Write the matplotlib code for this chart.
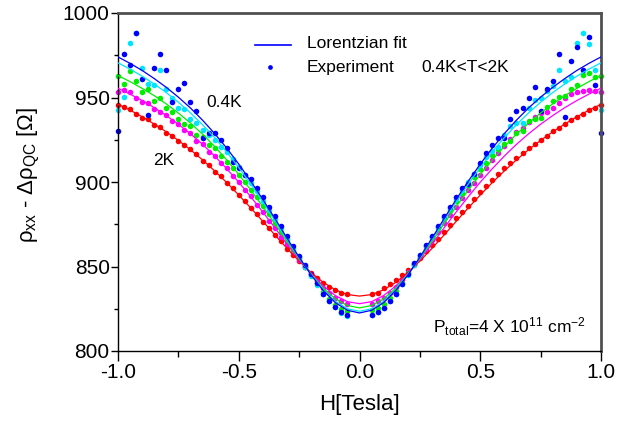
import matplotlib
matplotlib.use('Agg')
import matplotlib.pyplot as plt
from matplotlib.ticker import MultipleLocator

plt.rcParams['font.family'] = ['Liberation Sans', 'DejaVu Sans']
plt.rcParams['mathtext.fontset'] = 'custom'
plt.rcParams['mathtext.rm'] = 'Liberation Sans'
plt.rcParams['mathtext.it'] = 'Liberation Sans:italic'
plt.rcParams['mathtext.default'] = 'regular'

# ---------------- data ----------------
H_left = [-1.0, -0.975, -0.95, -0.925, -0.9, -0.875, -0.85, -0.825, -0.8, -0.775,
          -0.75, -0.725, -0.7, -0.675, -0.65, -0.625, -0.6, -0.575, -0.55, -0.525,
          -0.5, -0.475, -0.45, -0.425, -0.4, -0.375, -0.35, -0.325, -0.3, -0.275,
          -0.25, -0.225, -0.2, -0.175, -0.15, -0.125, -0.1, -0.075, -0.05]
H_right = [0.05, 0.075, 0.1, 0.125, 0.15, 0.175, 0.2, 0.225, 0.25, 0.275,
           0.3, 0.325, 0.35, 0.375, 0.4, 0.425, 0.45, 0.475, 0.5, 0.525,
           0.55, 0.575, 0.6, 0.625, 0.65, 0.675, 0.7, 0.725, 0.75, 0.775,
           0.8, 0.825, 0.85, 0.875, 0.9, 0.925, 0.95, 0.975, 1.0]

blue_left = [930, 976, 969, 988, 961, 939.5, 967.5, 976, 966.5, 947.5, 955, 958.5, 947.5,
             942, 926, 929, 929, 925, 920, 912, 908, 904, 901.5, 896.5, 891, 885, 880,
             874, 868, 862, 856.5, 851, 845.5, 840, 834, 829.5, 826, 823, 821.5]
blue_right = [821.5, 823, 825.5, 829.5, 834, 839.5, 845.5, 852, 857, 862.5, 868, 874, 880,
              885, 891, 896.5, 899, 905, 911, 917, 922, 926, 926, 937.5, 942, 944, 950,
              956, 942, 955, 960, 975.5, 938.5, 971.5, 980, 966, 986, 957.5, 929]

cyan_left = [942.5, 950.5, 982, 988, 967.5, 958, 957.5, 966, 955, 950, 944, 943, 937, 935,
             931, 928, 925, 921, 917.5, 913.5, 909, 904, 899.5, 894.5, 889, 883.5, 878,
             872.5, 866.5, 861, 855.5, 850, 844.5, 839, 834, 829.5, 826, 822.5, 821]
cyan_right = [821.3, 823, 825.5, 829.5, 834, 839.5, 845, 851, 856.5, 862, 867.5, 873.5, 879,
              884.5, 890, 895, 900, 905, 910, 914.5, 918.5, 921, 928, 933, 935, 935, 943.5,
              948.5, 950, 954, 957, 966, 960, 962, 982, 988, 981.5, 966, 942.5]

green_left = [962.5, 958, 965.5, 959.5, 953.5, 955, 948, 949.5, 944, 941.5, 937, 934.5, 933,
              928, 926.5, 922, 920, 915.5, 912, 908, 904, 900, 895.5, 891, 886, 881, 876,
              870.5, 865.5, 860, 855, 850, 845, 840.5, 835, 831, 827.5, 825, 823.5]
green_right = [824, 825.5, 828, 831.5, 835.5, 840.5, 846, 851.5, 857, 862, 867.5, 873, 878.5,
               883.5, 888.5, 893.5, 898, 903, 907.5, 911.5, 916, 919.5, 922.5, 924, 929, 930,
               936, 937, 938, 944.5, 948, 950.5, 951, 955, 957.5, 963.5, 964.5, 962, 963]

magenta_left = [953.5, 954.5, 953, 950, 947.5, 946.5, 943, 941.5, 939.5, 936, 934.5, 930.5,
                929, 924.5, 922.5, 918, 915.5, 911, 908, 903.5, 900, 895, 891.5, 886.5,
                882.5, 877, 873, 867.5, 863.5, 858.5, 854, 850, 845.5, 841.5, 837.5, 834.5,
                831.5, 829.5, 828]
magenta_right = [828, 829.5, 831.5, 834.5, 838, 842, 846.5, 851, 855.5, 860.5, 865.5, 870.5,
                 875.5, 880.5, 885.5, 890.5, 895, 899.5, 904, 908.5, 913, 917, 921.5, 925.5,
                 929.5, 932, 935.5, 938.5, 941, 941.5, 944, 946.5, 949.5, 952, 953.5, 954,
                 954.5, 954, 953.5]

red_left = [945.5, 944.5, 943, 940, 938, 937, 934, 932.5, 929, 927.5, 924, 922, 919.5, 916.5,
            912.5, 910, 906, 903.5, 899.5, 896.5, 892.5, 889, 884.5, 881, 876.5, 873, 868.5,
            865, 860.5, 857, 853, 849.5, 846, 843, 840.5, 838, 836, 834.5, 833.5]
red_right = [833.5, 834.5, 837, 839.5, 842, 845, 848, 851.5, 855, 859, 862.5, 866.5, 870.5,
             874.5, 878.5, 882.5, 886, 890, 894, 897.5, 901, 904.5, 908, 911, 914, 917, 920,
             922.5, 925, 927, 930, 932, 934.5, 936.5, 938.5, 940.5, 942.5, 944, 945.5]

# Lorentzian fit curves read at |H| = 0, 0.05, ..., 1.0 (symmetric in H)
fit_H = [0.0, 0.05, 0.1, 0.15, 0.2, 0.25, 0.3, 0.35, 0.4, 0.45, 0.5,
         0.55, 0.6, 0.65, 0.7, 0.75, 0.8, 0.85, 0.9, 0.95, 1.0]
blue_fit = [822.5, 824.1, 828.6, 835.8, 844.9, 855.5, 866.7, 878.3, 889.6, 900.4, 910.6,
            920.1, 928.7, 936.6, 943.8, 950.2, 956.0, 961.2, 966.0, 970.2, 974.0]
cyan_fit = [823.5, 825.0, 829.4, 836.3, 845.1, 855.2, 866.1, 877.2, 888.2, 898.7, 908.6,
            917.8, 926.3, 933.9, 940.9, 947.2, 952.9, 958.0, 962.6, 966.8, 970.5]
green_fit = [825.5, 826.9, 830.9, 837.2, 845.4, 854.7, 864.8, 875.2, 885.4, 895.2, 904.5,
             913.1, 921.1, 928.3, 934.9, 940.8, 946.2, 951.1, 955.4, 959.4, 963.0]
magenta_fit = [828.0, 829.2, 832.8, 838.4, 845.7, 854.2, 863.3, 872.8, 882.2, 891.2, 899.9,
               907.9, 915.4, 922.3, 928.5, 934.2, 939.3, 944.0, 948.2, 952.0, 955.5]
red_fit = [832.5, 833.4, 836.2, 840.6, 846.4, 853.2, 860.7, 868.6, 876.7, 884.6, 892.3,
           899.7, 906.6, 913.1, 919.1, 924.6, 929.7, 934.3, 938.6, 942.5, 946.0]

x_ticks = [-1.0, -0.5, 0.0, 0.5, 1.0]
y_ticks = [800, 850, 900, 950, 1000]

# ---------------- figure ----------------
fig = plt.figure(figsize=(6.44, 4.30), dpi=100)
ax = fig.add_axes([118 / 644, 1 - 351 / 430, 483 / 644, 338 / 430])

H_all = H_left + H_right
series = [
    ('#ff0000', red_left + red_right, red_fit),
    ('#ff00ff', magenta_left + magenta_right, magenta_fit),
    ('#00ee00', green_left + green_right, green_fit),
    ('#00e5ff', cyan_left + cyan_right, cyan_fit),
    ('#0000ff', blue_left + blue_right, blue_fit),
]

for col, vals, _ in series:
    ax.plot(H_all, vals, 'o', color=col, ms=4.0, mec='none', zorder=2, clip_on=False)

fit_full_H = [-h for h in fit_H[::-1]] + fit_H[1:]
for col, _, fit in series:
    fit_full = fit[::-1] + fit[1:]
    ax.plot(fit_full_H, fit_full, '-', color=col, lw=0.9, zorder=3)

ax.set_xlim(-1.0, 1.0)
ax.set_ylim(800, 1000)
ax.set_xticks(x_ticks)
ax.set_xticklabels(['%.1f' % v for v in x_ticks])
ax.set_yticks(y_ticks)
ax.xaxis.set_minor_locator(MultipleLocator(0.25))
ax.yaxis.set_minor_locator(MultipleLocator(25))
ax.tick_params(axis='both', which='major', direction='out', labelsize=15, width=1)
ax.tick_params(axis='x', which='major', length=7, pad=2)
ax.tick_params(axis='x', which='minor', length=4, width=1)
ax.tick_params(axis='y', which='major', length=5, pad=1)
ax.tick_params(axis='y', which='minor', length=3, width=1)
ax.tick_params(top=False, right=False, which='both')

for s in ['left', 'bottom']:
    ax.spines[s].set_color('black')
    ax.spines[s].set_linewidth(1.0)
for s in ['top', 'right']:
    ax.spines[s].set_color('#505050')
    ax.spines[s].set_linewidth(2.0)

ax.set_xlabel('H[Tesla]', fontsize=16)
ax.xaxis.set_label_coords(0.5, -0.128)
ax.set_ylabel('ρ$_{xx}$ - Δρ$_{QC}$ [Ω]', fontsize=16)
ax.yaxis.set_label_coords(-0.158, 0.52)

# legend (manual)
ax.plot([0.2836, 0.3582], [0.905, 0.905], '-', color='#0000ff', lw=1.2,
        transform=ax.transAxes, zorder=5)
ax.plot([0.3147], [0.840], 'o', color='#0000ff', ms=3.4, mec='none',
        transform=ax.transAxes, zorder=5)
ax.text(0.3907, 0.8956, 'Lorentzian fit', transform=ax.transAxes, fontsize=12.5,
        va='baseline', ha='left')
ax.text(0.3907, 0.8260, 'Experiment', transform=ax.transAxes, fontsize=12.5,
        va='baseline', ha='left')
ax.text(0.629, 0.8260, '0.4K<T<2K', transform=ax.transAxes, fontsize=12.5,
        va='baseline', ha='left')

ax.text(0.1836, 0.7228, '0.4K', transform=ax.transAxes, fontsize=12.5,
        va='baseline', ha='left')
ax.text(0.0718, 0.5503, '2K', transform=ax.transAxes, fontsize=12.5,
        va='baseline', ha='left')
ax.text(0.6528, 0.054, 'P$_{total}$=4 X 10$^{11}$ cm$^{-2}$', transform=ax.transAxes,
        fontsize=12.5, va='baseline', ha='left')

fig.savefig('out.png', dpi=100)
